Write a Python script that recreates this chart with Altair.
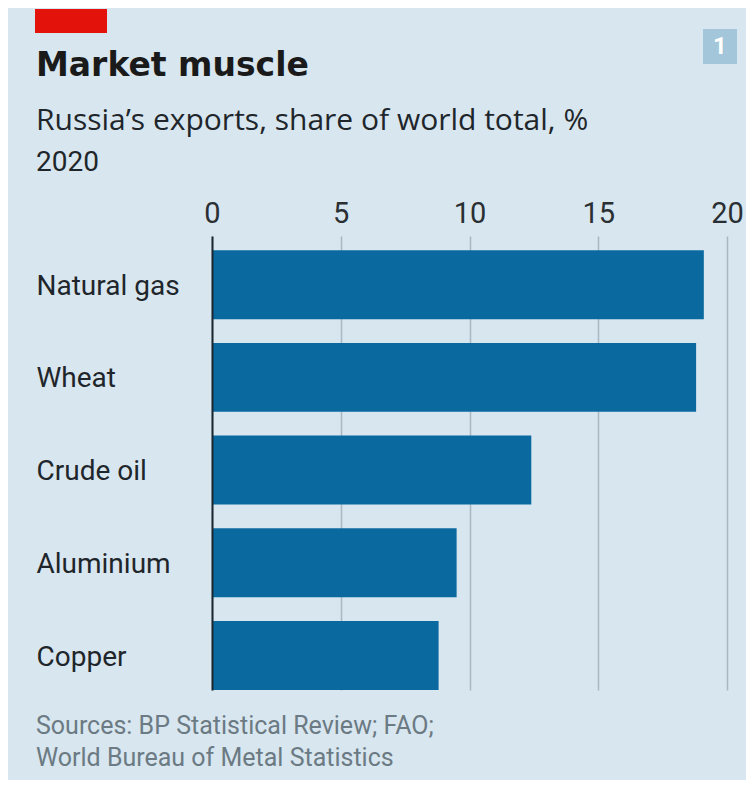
import altair as alt
import pandas as pd

categories = ["Natural gas", "Wheat", "Crude oil", "Aluminium", "Copper"]
shares = [19.1, 18.8, 12.4, 9.5, 8.8]
tick_values = [0, 5, 10, 15, 20]

title_text = "Market muscle"
subtitle_text = "Russia\u2019s exports, share of world total, %"
year_text = "2020"
source_lines = ["Sources: BP Statistical Review; FAO;", "World Bureau of Metal Statistics"]
badge_text = "1"

BG = "#d8e6ef"
BAR = "#0a6a9f"
FONT = "Roboto"

df = pd.DataFrame({"item": categories, "share": shares})

bars = alt.Chart(df).mark_bar(color=BAR).encode(
    x=alt.X(
        "share:Q",
        scale=alt.Scale(domain=[0, 20], nice=False, zero=True),
        axis=alt.Axis(
            orient="top", values=tick_values, title=None, ticks=False, domain=False,
            grid=True, gridColor="#a9b8c3", gridWidth=1.5,
            labelFontSize=29, labelFont=FONT, labelColor="#2a2f33", labelPadding=8,
            labelFlush=False,
        ),
    ),
    y=alt.Y(
        "item:N", sort=categories,
        scale=alt.Scale(paddingInner=0.256, paddingOuter=0.0765, align=1),
        axis=alt.Axis(
            title=None, ticks=False, domain=True, domainColor="#1b2730", domainWidth=2,
            labelAlign="left", labelPadding=176, labelLimit=300, labelFontSize=28,
            labelFont=FONT, labelColor="#1f262b", labelBaseline="middle", labelOffset=2,
            zindex=1, grid=False,
        ),
    ),
)

one = pd.DataFrame({"k": [0]})

red = alt.Chart(one).mark_rect(color="#e3120b").encode(
    x=alt.value(-177), x2=alt.value(-105), y=alt.value(-227), y2=alt.value(-203)
)

badge = alt.Chart(one).mark_rect(color="#a3c6da").encode(
    x=alt.value(491), x2=alt.value(525), y=alt.value(-207), y2=alt.value(-172)
)
badge_t = alt.Chart(one).mark_text(
    text=badge_text, font=FONT, fontSize=24, fontWeight="bold", color="white",
    align="center", baseline="middle"
).encode(x=alt.value(508), y=alt.value(-189))

title = alt.Chart(one).mark_text(
    text=title_text, font="DejaVu Sans", fontSize=33, fontWeight="bold", color="#1a1a1a",
    align="left", baseline="alphabetic"
).encode(x=alt.value(-176), y=alt.value(-160))

subtitle = alt.Chart(one).mark_text(
    text=subtitle_text, font="Open Sans", fontSize=30, color="#1f262b",
    align="left", baseline="alphabetic"
).encode(x=alt.value(-176), y=alt.value(-106))

year = alt.Chart(one).mark_text(
    text=year_text, font=FONT, fontSize=28, color="#1f262b",
    align="left", baseline="alphabetic"
).encode(x=alt.value(-176), y=alt.value(-65))

src1 = alt.Chart(one).mark_text(
    text=source_lines[0], font=FONT, fontSize=25, color="#6b7a83",
    align="left", baseline="alphabetic"
).encode(x=alt.value(-176), y=alt.value(498))
src2 = alt.Chart(one).mark_text(
    text=source_lines[1], font=FONT, fontSize=25, color="#6b7a83",
    align="left", baseline="alphabetic"
).encode(x=alt.value(-176), y=alt.value(530))

chart = alt.layer(bars, red, badge, badge_t, title, subtitle, year, src1, src2).properties(
    width=515, height=454,
    autosize=alt.AutoSizeParams(type="none"),
    padding={"left": 204, "top": 228, "right": 19, "bottom": 90},
    background=BG,
).configure_view(stroke=None)

chart.save("out.html", embed_options={"renderer": "svg", "actions": False})
